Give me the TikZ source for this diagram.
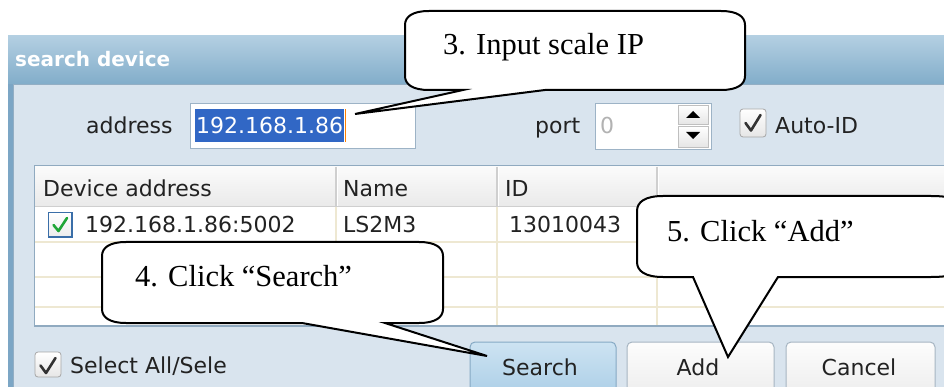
\documentclass[tikz,border=0pt]{standalone}
\usepackage{fontspec}
\setmainfont{Liberation Serif}
\newfontfamily\uifont{DejaVu Sans}
\definecolor{tbtop}{HTML}{B3CFE2}
\definecolor{tbbot}{HTML}{82ADCA}
\definecolor{framec}{HTML}{7CA6C5}
\definecolor{panel}{HTML}{D9E4EE}
\definecolor{panelline}{HTML}{93AEC4}
\definecolor{fieldb}{HTML}{9DB3C6}
\definecolor{selblue}{HTML}{3167C5}
\definecolor{uitext}{HTML}{222222}
\definecolor{tblb}{HTML}{90AAC0}
\definecolor{hsep}{HTML}{CFCFCF}
\definecolor{gridc}{HTML}{EEE8D2}
\definecolor{chkgreen}{HTML}{1FA637}
\definecolor{chkblue}{HTML}{3A6EA8}
\definecolor{btnb}{HTML}{A6B5C2}
\definecolor{sbtnb}{HTML}{86A9C4}
\definecolor{sbtntop}{HTML}{CDE3F2}
\definecolor{sbtnbot}{HTML}{A9CDE6}
\tikzset{
  ui/.style={font=\uifont\fontsize{22}{26}\selectfont, inner sep=0pt, text=uitext},
  calltext/.style={font=\fontsize{30.5}{36}\selectfont, inner sep=0pt, text=black},
  callout/.style={draw=black, fill=white, line width=2pt},
  graybox/.style={draw=gray!70, rounded corners=3pt, top color=white, bottom color=gray!20, line width=0.8pt},
  checkmark/.style={line width=2.6pt, line cap=round, line join=round},
  btn/.style={draw=btnb, rounded corners=5pt, top color=white!98!gray, bottom color=gray!15, line width=1pt},
  sbtn/.style={draw=sbtnb, rounded corners=5pt, top color=sbtntop, bottom color=sbtnbot, line width=1pt}
}
\begin{document}
\begin{tikzpicture}[x=1pt,y=-1pt]
\useasboundingbox (0,0) rectangle (944,387);
\begin{scope}
\clip (0,0) rectangle (944,387);
\fill[white] (0,0) rectangle (944,387);
% window
\shade[top color=tbtop, bottom color=tbbot] (8,36) rectangle (944,84);
\fill[framec] (8,84) rectangle (14,387);
\fill[panel] (14,84) rectangle (944,387);
\draw[panelline, line width=1.2pt] (13,84.5) -- (944,84.5);
\draw[panelline, line width=1pt] (13.5,84) -- (13.5,387);
\node[anchor=base west, inner sep=0pt, text=white, font=\uifont\bfseries\fontsize{20}{24}\selectfont] (title) at (15,67) {search device};
% address
\node[ui, anchor=base west] (addrlbl) at (86,134) {address};
\draw[fill=white, draw=fieldb, line width=1pt] (190.5,103.5) rectangle (415.5,148.5);
\fill[selblue] (195,109) rectangle (344,142);
\node[ui, anchor=base west, text=white] (addrval) at (196,134) {192.168.1.86};
\draw[orange, line width=1pt] (345,109) -- (345,142);
% port
\node[ui, anchor=base west] (portlbl) at (535,134) {port};
\draw[fill=white, draw=fieldb, line width=1pt] (595.5,103.5) rectangle (711,150);
\node[ui, anchor=base west, text=gray!60] (portval) at (600,134) {0};
\shade[top color=white, bottom color=gray!20, draw=gray!50] (678,105) rectangle (708,124);
\shade[top color=white, bottom color=gray!20, draw=gray!50] (678,126) rectangle (708,147);
\fill[black] (686,118) -- (700,118) -- (693,111) -- cycle;
\fill[black] (686,132) -- (700,132) -- (693,139) -- cycle;
% auto-id
\draw[graybox] (740,109) rectangle (766,137);
\draw[checkmark, black!80] (745.5,123) -- (751,130.5) -- (760.5,115);
\node[ui, anchor=base west] (autoid) at (775,134) {Auto-ID};
% table
\fill[white] (34,166) rectangle (944,326);
\shade[top color=white!97!gray, bottom color=gray!17] (34,166) rectangle (944,207);
\foreach \x in {336,497,657} {
  \draw[hsep, line width=1.5pt] (\x,167) -- (\x,206);
  \draw[white, line width=1pt] (\x+1.8,167) -- (\x+1.8,206);
  \draw[gridc, line width=1.5pt] (\x,207) -- (\x,326);
}
\foreach \y in {242,277,307} {
  \draw[gridc, line width=1.5pt] (35,\y) -- (944,\y);
}
\draw[hsep, line width=1pt] (35,207) -- (944,207);
\draw[tblb, line width=1.3pt] (944,165.5) -- (34.5,165.5) -- (34.5,326) -- (944,326);
\node[ui, anchor=base west] (hdev) at (43,197) {Device address};
\node[ui, anchor=base west] (hname) at (343,197) {Name};
\node[ui, anchor=base west] (hid) at (505,197) {ID};
\draw[draw=chkblue, line width=1.3pt, top color=white, bottom color=gray!15] (48.5,212.5) rectangle (72,237);
\draw[checkmark, chkgreen] (53.5,225) -- (58.5,231) -- (67,218);
\node[ui, anchor=base west] (rdev) at (85,233) {192.168.1.86:5002};
\node[ui, anchor=base west] (rname) at (343,233) {LS2M3};
\node[ui, anchor=base west] (rid) at (509,233) {13010043};
% select all
\draw[graybox] (35,352) rectangle (61,377);
\draw[checkmark, black!80] (40.5,365.5) -- (46,373) -- (55.5,358);
\begin{scope}
\clip (62,340) rectangle (227,387);
\node[ui, anchor=base west] (selall) at (70,373) {Select All/Sele};
\end{scope}
% buttons
\draw[sbtn] (470,342) rectangle (616,400);
\draw[btn] (627,342) rectangle (774,400);
\draw[btn] (786,342) rectangle (935,400);
\node[ui, anchor=base] (bsearch) at (540,375) {Search};
\node[ui, anchor=base] (badd) at (698,375) {Add};
\node[ui, anchor=base] (bcancel) at (859,375) {Cancel};
% callouts
\draw[callout] (429,11) -- (721,11) .. controls (738,11) and (745,17) .. (745,25) -- (745,76) .. controls (745,84) and (738,90) .. (721,90) -- (545,90) -- (355,114) -- (463,90) -- (429,90) .. controls (412,90) and (405,84) .. (405,76) -- (405,25) .. controls (405,17) and (412,11) .. (429,11) -- cycle;
\node[calltext, anchor=base west] (c3) at (443,55) {3. Input scale IP};
\draw[callout] (126,242) -- (419,242) .. controls (436,242) and (443,248) .. (443,256) -- (443,309) .. controls (443,317) and (436,323) .. (419,323) -- (385,323) -- (487,356) -- (302,323) -- (126,323) .. controls (109,323) and (102,317) .. (102,309) -- (102,256) .. controls (102,248) and (109,242) .. (126,242) -- cycle;
\node[calltext, anchor=base west] (c4) at (135,286) {4. Click “Search”};
\draw[callout] (663,196) -- (931,196) .. controls (955,196) and (975,202) .. (975,212) -- (975,262) .. controls (975,271) and (955,277) .. (931,277) -- (778,277) -- (728,357) -- (693,277) -- (663,277) .. controls (645,277) and (637,271) .. (637,262) -- (637,211) .. controls (637,202) and (645,196) .. (663,196) -- cycle;
\node[calltext, anchor=base west] (c5) at (667,241) {5. Click “Add”};
\end{scope}
\end{tikzpicture}
\end{document}
